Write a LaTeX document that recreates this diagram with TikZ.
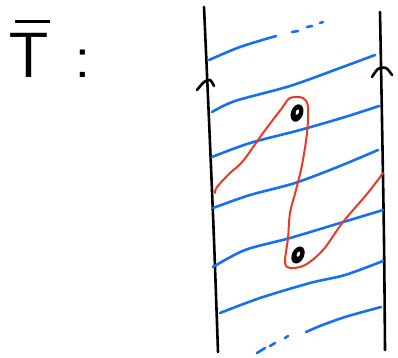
\documentclass[tikz,border=0pt]{standalone}
\usepackage{amsmath}
\usetikzlibrary{calc}

\definecolor{stripblue}{RGB}{22,112,240}
\definecolor{loopred}{RGB}{232,58,38}

\begin{document}
\begin{tikzpicture}[x=1pt, y=-1pt, line cap=round, line join=round,
    edgeline/.style={line width=2.6pt, black},
    fiber/.style={line width=2.6pt, stripblue},
    loopline/.style={line width=2pt, loopred},
    puncture/.style={fill=black}]

    \useasboundingbox (0,0) rectangle (398,357);

    % ================= Label =================
    \node[anchor=base west, inner sep=0pt] (label) at (8,77)
        {\sffamily\fontsize{64}{64}\selectfont
         \makebox[0pt][l]{\hspace{0.1em}\raisebox{0.84em}{\rule{0.55em}{0.05em}}}T\hspace{0.4em}:};

    % ================= Strip edges =================
    \draw[edgeline] plot[smooth] coordinates {(204,7) (209,120) (214,240) (218,352)};
    \draw[edgeline] plot[smooth] coordinates {(380,12) (382,120) (384,240) (385,350)};

    % Orientation marks
    \draw[edgeline] plot[smooth] coordinates {(197,90) (204,82) (210,80) (214,86)};
    \draw[edgeline] plot[smooth] coordinates {(372,77) (378,69) (386,68) (392,75)};

    % ================= Leaves =================
    \draw[fiber] plot[smooth] coordinates {(209,60) (240,47) (276,36)};
    \draw[fiber] (292,32) -- (298,31);
    \draw[fiber] (307,27) -- (312,26);
    \draw[fiber] (320,23) -- (323,22);

    \draw[fiber] plot[smooth] coordinates {(212,112) (235,101) (290,86) (340,68) (375,55)};
    \draw[fiber] plot[smooth] coordinates {(212,157) (250,143) (300,130) (345,117) (379,106)};
    \draw[fiber] plot[smooth] coordinates {(213,208) (250,195) (295,183) (340,166) (378,150)};
    \draw[fiber] plot[smooth] coordinates {(213,267) (245,250) (290,238) (340,223) (383,210)};
    \draw[fiber] plot[smooth] coordinates {(220,313) (260,298) (310,283) (345,275) (383,261)};
    \draw[fiber] plot[smooth] coordinates {(306,332) (320,326) (345,317) (381,307)};
    \draw[fiber] (257,353) -- (265,348);
    \draw[fiber] (270,346) -- (275,343);
    \draw[fiber] (285,338) -- (288,336);

    % ================= Loop =================
    \draw[loopline] plot[smooth, tension=0.55] coordinates {
        (215,193) (217,187) (230,173) (243,161) (263,133) (282,108)
        (290,98) (303,98) (308,107) (307,133) (302,165) (296,190)
        (290,213) (288,238) (285,262) (290,268) (305,265) (323,250)
        (343,222) (367,194) (383,173)};

    % ================= Punctures =================
    \fill[puncture, rotate around={-20:(297,113)}] (297,113) ellipse (6 and 9);
    \fill[white, rotate around={-20:(297,113)}] (297,112) ellipse (1.5 and 2.8);
    \fill[puncture, rotate around={-25:(298,255)}] (298,255) ellipse (6 and 9);
    \fill[white, rotate around={-25:(298,255)}] (298,254) ellipse (1.5 and 2.8);

\end{tikzpicture}
\end{document}
